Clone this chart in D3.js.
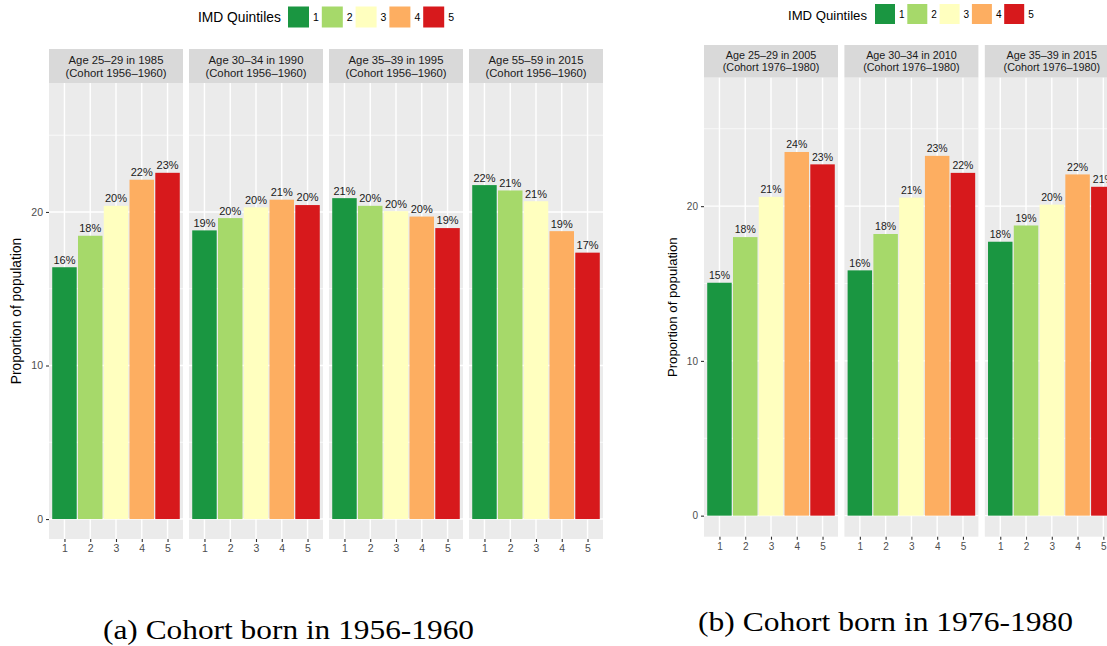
<!DOCTYPE html>
<html>
<head>
<meta charset="utf-8">
<script src="https://cdn.jsdelivr.net/npm/d3@7"></script>
<style>
  html, body { margin: 0; padding: 0; background: #fff; }
  svg { display: block; }
</style>
</head>
<body>
<svg id="chart" width="1107" height="646"></svg>
<script>
// ---------- DATA ----------
const quintiles = ["1", "2", "3", "4", "5"];
const quintileColors = ["#1a9641", "#a6d96a", "#ffffbf", "#fdae61", "#d7191c"];
const yTicks = [0, 10, 20];
const yMinorTicks = [5, 15, 25];
const legendTitle = "IMD Quintiles";
const yAxisTitle = "Proportion of population";

// Cohort born 1956-1960
const panelTitlesA = ["Age 25–29 in 1985", "Age 30–34 in 1990", "Age 35–39 in 1995", "Age 55–59 in 2015"];
const cohortLabelA = "(Cohort 1956–1960)";
const valuesA1985 = [16.4, 18.45, 20.4, 22.1, 22.55];
const valuesA1990 = [18.8, 19.6, 20.3, 20.8, 20.45];
const valuesA1995 = [20.9, 20.4, 20.05, 19.7, 18.95];
const valuesA2015 = [21.75, 21.4, 20.7, 18.75, 17.35];
const captionA = "(a) Cohort born in 1956-1960";

// Cohort born 1976-1980
const panelTitlesB = ["Age 25–29 in 2005", "Age 30–34 in 2010", "Age 35–39 in 2015"];
const cohortLabelB = "(Cohort 1976–1980)";
const valuesB2005 = [15.05, 18.0, 20.6, 23.5, 22.7];
const valuesB2010 = [15.85, 18.2, 20.55, 23.25, 22.15];
const valuesB2015 = [17.7, 18.75, 20.1, 22.05, 21.25];
const captionB = "(b) Cohort born in 1976-1980";

// ---------- LAYOUT ----------
const charts = [
  {
    titles: panelTitlesA, cohort: cohortLabelA,
    values: [valuesA1985, valuesA1990, valuesA1995, valuesA2015],
    x0: 49, panelStep: 140, panelW: 134,
    stripTop: 49, plotTop: 83, plotBottom: 539, yDomain: [-1.3, 28.4],
    fs: 1, yTitleX: 20.5,
    legend: { titleX: 198, baseline: 21.5, boxX: 288, boxY: 6.5, box: 21, step: 33.8 },
    caption: captionA, capX: 103, capY: 639, capW: 371
  },
  {
    titles: panelTitlesB, cohort: cohortLabelB,
    values: [valuesB2005, valuesB2010, valuesB2015],
    x0: 704, panelStep: 140.4, panelW: 134,
    stripTop: 45, plotTop: 77.7, plotBottom: 536.7, yDomain: [-1.36, 28.3],
    fs: 0.955, yTitleX: 676.5,
    legend: { titleX: 788, baseline: 19.5, boxX: 875, boxY: 4, box: 20, step: 32.3 },
    caption: captionB, capX: 698, capY: 631, capW: 375
  }
];

const color = d3.scaleOrdinal().domain(quintiles).range(quintileColors);
const svg = d3.select("#chart");
const FONT = "'Liberation Sans', Arial, Helvetica, sans-serif";

charts.forEach(c => {
  const g = svg.append("g");
  const y = d3.scaleLinear().domain(c.yDomain).range([c.plotBottom, c.plotTop]);
  const x = d3.scalePoint().domain(quintiles).range([0, c.panelW]).padding(0.6);
  const barW = x.step() * 0.95;

  c.values.forEach((vals, i) => {
    const px = c.x0 + i * c.panelStep;
    const p = g.append("g").attr("transform", `translate(${px},0)`);

    // strip
    p.append("rect").attr("x", 0).attr("y", c.stripTop)
      .attr("width", c.panelW).attr("height", c.plotTop - c.stripTop)
      .attr("fill", "#d9d9d9");
    const sMid = (c.stripTop + c.plotTop) / 2;
    p.append("text").attr("x", c.panelW / 2).attr("y", sMid - 2)
      .attr("text-anchor", "middle").attr("font-family", FONT)
      .attr("font-size", 11.3 * c.fs).attr("fill", "#1a1a1a")
      .text(c.titles[i]);
    p.append("text").attr("x", c.panelW / 2).attr("y", sMid + 10.5 * c.fs)
      .attr("text-anchor", "middle").attr("font-family", FONT)
      .attr("font-size", 11.3 * c.fs).attr("fill", "#1a1a1a")
      .text(c.cohort);

    // panel background
    p.append("rect").attr("x", 0).attr("y", c.plotTop)
      .attr("width", c.panelW).attr("height", c.plotBottom - c.plotTop)
      .attr("fill", "#ebebeb");

    // grid
    p.selectAll(".minor").data(yMinorTicks).enter().append("line")
      .attr("x1", 0).attr("x2", c.panelW)
      .attr("y1", d => y(d)).attr("y2", d => y(d))
      .attr("stroke", "#fff").attr("stroke-width", 0.7);
    p.selectAll(".major").data(yTicks).enter().append("line")
      .attr("x1", 0).attr("x2", c.panelW)
      .attr("y1", d => y(d)).attr("y2", d => y(d))
      .attr("stroke", "#fff").attr("stroke-width", 1.4);
    p.selectAll(".vgrid").data(quintiles).enter().append("line")
      .attr("x1", d => x(d)).attr("x2", d => x(d))
      .attr("y1", c.plotTop).attr("y2", c.plotBottom)
      .attr("stroke", "#fff").attr("stroke-width", 1.4);

    // bars
    p.selectAll(".bar").data(vals).enter().append("rect")
      .attr("x", (d, k) => x(quintiles[k]) - barW / 2)
      .attr("width", barW)
      .attr("y", d => y(d))
      .attr("height", d => y(0) - y(d))
      .attr("fill", (d, k) => color(quintiles[k]));

    // labels
    p.selectAll(".lbl").data(vals).enter().append("text")
      .attr("x", (d, k) => x(quintiles[k]))
      .attr("y", d => y(d) - 3.6)
      .attr("text-anchor", "middle").attr("font-family", FONT)
      .attr("font-size", 11 * c.fs).attr("fill", "#1a1a1a")
      .text(d => Math.round(d) + "%");

    // x axis
    const xa = p.append("g").attr("transform", `translate(0,${c.plotBottom})`)
      .call(d3.axisBottom(x).tickSize(3).tickPadding(3));
    xa.select(".domain").remove();
    xa.selectAll("line").attr("stroke", "#333").attr("stroke-width", 1.1);
    xa.selectAll("text").attr("font-family", FONT).attr("font-size", 10.5 * c.fs).attr("fill", "#4d4d4d");
  });

  // y axis
  const ya = g.append("g").attr("transform", `translate(${c.x0},0)`)
    .call(d3.axisLeft(y).tickValues(yTicks).tickSize(3).tickPadding(3));
  ya.select(".domain").remove();
  ya.selectAll("line").attr("stroke", "#333").attr("stroke-width", 1.1);
  ya.selectAll("text").attr("font-family", FONT).attr("font-size", 10.5 * c.fs).attr("fill", "#4d4d4d");

  // y title
  const yMid = (c.plotTop + c.plotBottom) / 2;
  g.append("text")
    .attr("transform", `translate(${c.yTitleX},${yMid}) rotate(-90)`)
    .attr("text-anchor", "middle").attr("font-family", FONT)
    .attr("font-size", 13.8 * c.fs).attr("fill", "#000")
    .text(yAxisTitle);

  // legend
  const L = c.legend;
  g.append("text").attr("x", L.titleX).attr("y", L.baseline)
    .attr("font-family", FONT).attr("font-size", 13.8 * c.fs).attr("fill", "#000")
    .text(legendTitle);
  const items = g.selectAll(".leg").data(quintiles).enter().append("g")
    .attr("transform", (d, k) => `translate(${L.boxX + k * L.step},${L.boxY})`);
  items.append("rect").attr("width", L.box).attr("height", L.box).attr("fill", d => color(d));
  items.append("text").attr("x", L.box + 4).attr("y", L.box / 2 + 4)
    .attr("font-family", FONT).attr("font-size", 10.5 * c.fs).attr("fill", "#000")
    .text(d => d);

  // caption
  svg.append("text").attr("x", c.capX).attr("y", c.capY)
    .attr("font-family", "'Liberation Serif', 'DejaVu Serif', serif")
    .attr("font-size", 27).attr("fill", "#000")
    .attr("textLength", c.capW).attr("lengthAdjust", "spacingAndGlyphs")
    .text(c.caption);
});
</script>
</body>
</html>
